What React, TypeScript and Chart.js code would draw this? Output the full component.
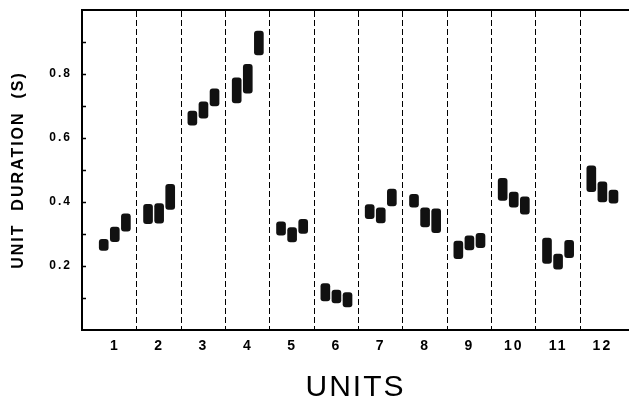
import React, { useEffect, useRef } from "react";
import { Chart, registerables } from "chart.js";

Chart.register(...registerables);

// Units (categories) 1..12
const units = [1, 2, 3, 4, 5, 6, 7, 8, 9, 10, 11, 12];

// Three measurements per unit (left, middle, right bar): lower / upper end of each bar (seconds)
const lowA = [0.249, 0.332, 0.640, 0.710, 0.296, 0.091, 0.348, 0.384, 0.223, 0.405, 0.208, 0.432];
const highA = [0.283, 0.393, 0.684, 0.788, 0.338, 0.145, 0.392, 0.424, 0.278, 0.474, 0.287, 0.513];
const lowB = [0.276, 0.334, 0.662, 0.740, 0.275, 0.085, 0.335, 0.322, 0.250, 0.384, 0.190, 0.400];
const highB = [0.322, 0.395, 0.713, 0.830, 0.320, 0.125, 0.382, 0.382, 0.294, 0.431, 0.237, 0.463];
const lowC = [0.309, 0.377, 0.700, 0.860, 0.302, 0.072, 0.388, 0.304, 0.257, 0.362, 0.226, 0.396];
const highC = [0.363, 0.455, 0.754, 0.934, 0.346, 0.117, 0.440, 0.379, 0.302, 0.416, 0.280, 0.437];

// Position of each of the three bars inside a unit (in unit coordinates)
const slotOffsets = [-0.25, 0, 0.25];

// Y tick labels shown
const yLabelValues = [0.2, 0.4, 0.6, 0.8];
// Dividers between units
const dividers = [1.5, 2.5, 3.5, 4.5, 5.5, 6.5, 7.5, 8.5, 9.5, 10.5, 11.5];

const FONT = "'Liberation Sans', Arial, Helvetica, sans-serif";

export default function App() {
  const ref = useRef<HTMLCanvasElement | null>(null);

  useEffect(() => {
    document.body.style.margin = "0";
    const canvas = ref.current;
    if (!canvas) return;

    const lows = [lowA, lowB, lowC];
    const highs = [highA, highB, highC];
    const barData: { x: number; y: [number, number] }[] = [];
    units.forEach((u, i) => {
      slotOffsets.forEach((off, s) => {
        barData.push({ x: u + off, y: [lows[s][i], highs[s][i]] });
      });
    });

    const spacingPlugin = {
      id: "letterSpacing",
      beforeUpdate(chart: any) {
        chart.ctx.letterSpacing = "2px";
      },
      beforeDraw(chart: any) {
        chart.ctx.letterSpacing = "2px";
      },
    };

    const inwardTicks = {
      id: "inwardTicks",
      afterDraw(chart: any) {
        const y = chart.scales.y;
        const ctx = chart.ctx;
        const left = chart.chartArea.left;
        ctx.save();
        ctx.strokeStyle = "#000";
        ctx.lineWidth = 1.5;
        y.ticks.forEach((t: any) => {
          if (t.value <= 0.001 || t.value >= 0.999) return;
          const py = Math.round(y.getPixelForValue(t.value)) + 0.5;
          ctx.beginPath();
          ctx.moveTo(left, py);
          ctx.lineTo(left + 4, py);
          ctx.stroke();
        });
        ctx.restore();
      },
    };

    const chart = new Chart(canvas, {
      type: "bar",
      data: {
        datasets: [
          {
            data: barData as any,
            backgroundColor: "#111",
            borderWidth: 0,
            borderRadius: 3,
            borderSkipped: false,
            barThickness: 9,
            grouped: false,
          } as any,
        ],
      },
      plugins: [spacingPlugin, inwardTicks],
      options: {
        animation: false,
        responsive: true,
        maintainAspectRatio: false,
        devicePixelRatio: 1,
        layout: { padding: { top: 10, right: 0, bottom: 0, left: 0 } },
        plugins: {
          legend: { display: false },
          tooltip: { enabled: false },
        },
        scales: {
          x: {
            type: "linear",
            position: "bottom",
            min: 0.26,
            max: 12.6,
            offset: false,
            afterBuildTicks(scale: any) {
              scale.ticks = units.map((u) => ({ value: u }));
            },
            afterFit(scale: any) {
              scale.height = 71;
              scale.paddingLeft = 0;
              scale.paddingRight = 0;
            },
            grid: { display: false, drawTicks: false },
            border: { display: true, color: "#000", width: 2 },
            ticks: {
              color: "#000",
              padding: 8,
              maxRotation: 0,
              autoSkip: false,
              font: { family: FONT, size: 14, weight: "bold" },
              callback: (v: any) => String(v),
            },
            title: {
              display: true,
              text: "UNITS",
              color: "#000",
              font: { family: FONT, size: 30, weight: "normal", lineHeight: 0.9 },
              padding: { top: 0, bottom: 0 },
            },
          },
          x2: {
            type: "linear",
            position: "top",
            min: 0.26,
            max: 12.6,
            offset: false,
            afterBuildTicks(scale: any) {
              scale.ticks = dividers.map((d) => ({ value: d }));
            },
            afterFit(scale: any) {
              scale.height = 0;
              scale.paddingLeft = 0;
              scale.paddingRight = 0;
            },
            grid: {
              display: true,
              drawTicks: false,
              drawOnChartArea: true,
              color: "#000",
              lineWidth: 1,
              offset: false,
            },
            border: { display: true, color: "#000", width: 2, dash: [6, 3] },
            ticks: { display: false },
          },
          y: {
            type: "linear",
            min: 0,
            max: 1,
            afterFit(scale: any) {
              scale.width = 82;
              scale.paddingTop = 0;
              scale.paddingBottom = 0;
            },
            ticks: {
              stepSize: 0.1,
              color: "#000",
              padding: 10,
              font: { family: FONT, size: 12, weight: "bold" },
              callback: (v: any) => {
                const n = Number(v);
                const hit = yLabelValues.find((t) => Math.abs(t - n) < 1e-6);
                return hit !== undefined ? hit.toFixed(1) : "";
              },
            },
            grid: { display: false, drawTicks: false },
            border: { display: true, color: "#000", width: 2 },
            title: {
              display: true,
              text: "UNIT  DURATION  (S)",
              color: "#000",
              font: { family: FONT, size: 16, weight: "bold", lineHeight: 1.2 },
              padding: { top: 9, bottom: 0 },
            },
          },
        },
      } as any,
    });

    return () => chart.destroy();
  }, []);

  return (
    <div style={{ width: 629, height: 401, position: "relative" }}>
      <canvas ref={ref} />
    </div>
  );
}
